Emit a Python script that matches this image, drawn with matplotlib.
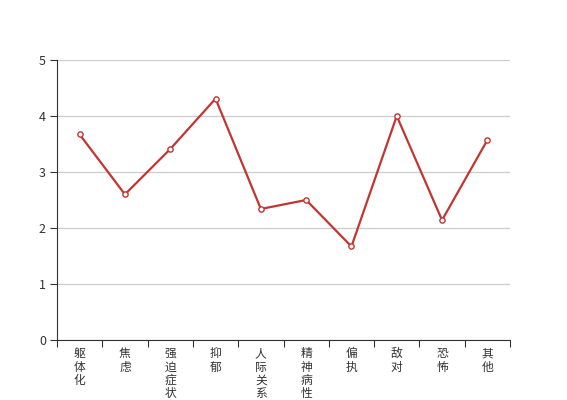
import matplotlib
matplotlib.use("Agg")
import matplotlib.pyplot as plt
import matplotlib.transforms as mtransforms
import numpy as np

plt.rcParams['font.family'] = ['Noto Sans CJK SC', 'DejaVu Sans']

categories = ["躯体化", "焦虑", "强迫症状", "抑郁", "人际关系敏感", "精神病性", "偏执", "敌对", "恐怖", "其他"]
values = [3.67, 2.60, 3.41, 4.31, 2.34, 2.50, 1.67, 4.00, 2.14, 3.57]
yticks = [0, 1, 2, 3, 4, 5]

fig = plt.figure(figsize=(5.67, 4.0), dpi=100)
ax = fig.add_axes([57/567, 1-340/400, (510-57)/567, 280/400])

x = np.arange(len(categories))
ax.plot(x, values, color="#c23531", lw=1.6, marker="o", ms=3.8,
        mfc="white", mec="#c23531", mew=1.0, zorder=3)

ax.set_xlim(-0.5, len(categories) - 0.5)
ax.set_ylim(0, 5)
ax.set_yticks(yticks)
ax.set_yticklabels([str(v) for v in yticks], fontsize=9, color="#333333")
ax.grid(axis="y", color="#cccccc", lw=0.9)
ax.set_axisbelow(True)

for s in ["top", "right"]:
    ax.spines[s].set_visible(False)
ax.spines["left"].set_color("#333333")
ax.spines["bottom"].set_color("#333333")
ax.tick_params(axis="y", length=5, color="#333333", pad=3)

ax.set_xticks(np.arange(len(categories) + 1) - 0.5)
ax.set_xticklabels([])
ax.tick_params(axis="x", length=5, color="#333333")

trans = mtransforms.blended_transform_factory(ax.transData, ax.transAxes)
for i, c in enumerate(categories):
    ax.text(i, -0.025, "\n".join(c), transform=trans, ha="center", va="top",
            fontsize=8.5, color="#333333", linespacing=1.05, clip_on=False)

fig.savefig("out.png", dpi=100)
